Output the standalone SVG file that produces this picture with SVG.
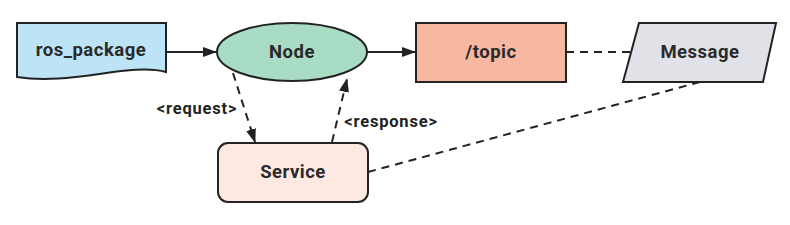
<svg xmlns="http://www.w3.org/2000/svg" width="790" height="225" viewBox="0 0 790 225">
<style>
.shape{stroke:#222;stroke-width:2}
.lbl{font-family:Roboto,"Liberation Sans",sans-serif;font-weight:bold;font-size:18.5px;letter-spacing:0.5px;fill:#2a2a2a;text-anchor:middle;dominant-baseline:central}
.elbl{font-family:Roboto,"Liberation Sans",sans-serif;font-weight:bold;font-size:16.5px;letter-spacing:0.8px;fill:#222;text-anchor:middle;dominant-baseline:central}
.edge{stroke:#222;stroke-width:2;fill:none}
.dash{stroke-dasharray:8,6}
</style>
<defs>
<marker id="arr" viewBox="0 0 14 10" refX="13" refY="5" markerWidth="14" markerHeight="10" markerUnits="userSpaceOnUse" orient="auto">
<path d="M0,0 L14,5 L0,10 Z" fill="#222"/>
</marker>
</defs>
<rect width="790" height="225" fill="#fff"/>
<g id="edges">
<line class="edge" x1="166" y1="52" x2="216" y2="52" marker-end="url(#arr)"/>
<line class="edge" x1="367" y1="52" x2="415" y2="52" marker-end="url(#arr)"/>
<line class="edge dash" x1="566" y1="52" x2="632" y2="52"/>
<line class="edge dash" x1="233" y1="73" x2="255" y2="142" marker-end="url(#arr)"/>
<line class="edge dash" x1="332" y1="142" x2="347" y2="79" marker-end="url(#arr)"/>
<line class="edge dash" x1="368" y1="172" x2="700" y2="82"/>
<text class="elbl" x="197" y="108">&lt;request&gt;</text>
<text class="elbl" x="391" y="121">&lt;response&gt;</text>
</g>
<g id="ros_package">
<path class="shape" fill="#bde3f7" d="M17,23 H166 V72 C130,62 70,86 17,77 Z"/>
<text class="lbl" x="91" y="50">ros_package</text>
</g>
<g id="node">
<ellipse class="shape" fill="#a8dcc4" cx="292" cy="52" rx="75" ry="29"/>
<text class="lbl" x="292" y="52">Node</text>
</g>
<g id="topic">
<rect class="shape" fill="#f7b7a1" x="416" y="23" width="150" height="59"/>
<text class="lbl" x="491" y="52">/topic</text>
</g>
<g id="message">
<path class="shape" fill="#e1e2e7" d="M639,23 H776 L763,82 H623 Z"/>
<text class="lbl" x="700" y="52">Message</text>
</g>
<g id="service">
<rect class="shape" fill="#fde9e1" x="218" y="143" width="150" height="59" rx="10"/>
<text class="lbl" x="293" y="172">Service</text>
</g>
</svg>
